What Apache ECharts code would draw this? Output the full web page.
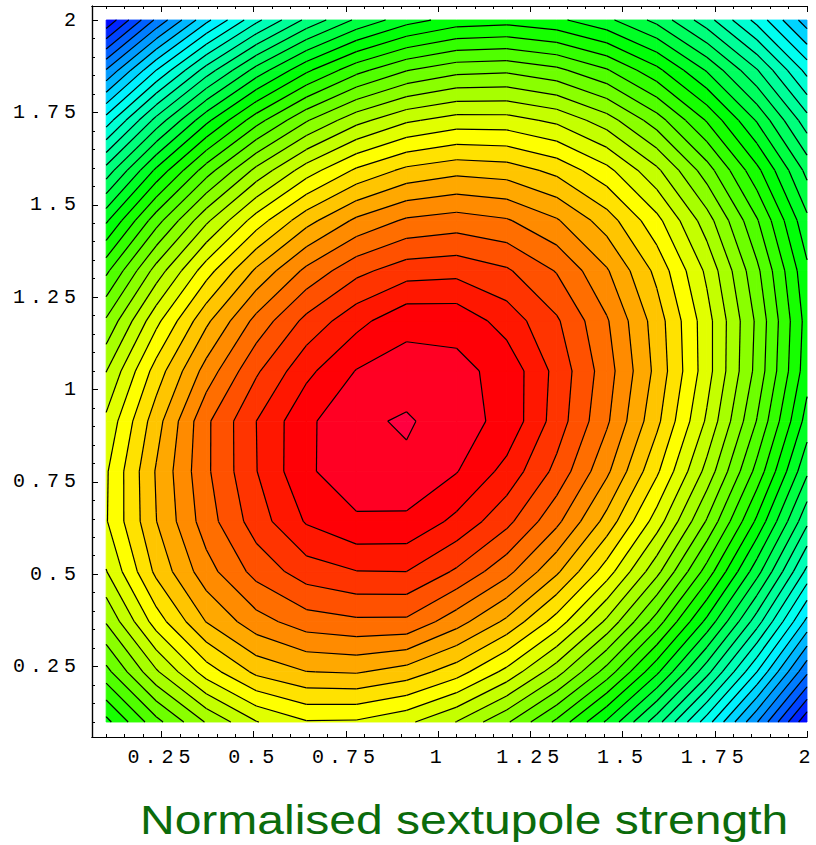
<!DOCTYPE html>
<html>
<head>
<meta charset="utf-8">
<title>Normalised sextupole strength</title>
<script src="https://cdn.jsdelivr.net/npm/echarts@6/dist/echarts.min.js"></script>
<style>
  html, body { margin: 0; padding: 0; background: #ffffff; }
  #chart { width: 816px; height: 845px; }
  /* widen the monospaced tick numbers */
  #chart text[style*="Mono"], #chart text[font-family*="Mono"] { letter-spacing: 5px; }
</style>
</head>
<body>
<div id="chart"></div>
<script>
// Sample positions of the 15 x 15 grid (same along both axes)
const xGrid = [0.1, 0.2357, 0.3714, 0.5071, 0.6429, 0.7786, 0.9143, 1.05, 1.1857, 1.3214, 1.4571, 1.5929, 1.7286, 1.8643, 2.0];
const yGrid = [0.1, 0.2357, 0.3714, 0.5071, 0.6429, 0.7786, 0.9143, 1.05, 1.1857, 1.3214, 1.4571, 1.5929, 1.7286, 1.8643, 2.0];

// Surface values, one row per y sample (bottom row first), x increasing along each row
const r00 = [20.69, 23.67, 26.09, 27.95, 28.92, 28.87, 28.22, 26.97, 25.15, 22.77, 19.84, 16.41, 12.47, 8.06, 3.18];
const r01 = [23.67, 26.85, 29.48, 31.24, 31.98, 32.09, 31.57, 30.44, 28.71, 26.41, 23.58, 20.21, 16.34, 12.00, 7.20];
const r02 = [26.09, 29.48, 32.03, 33.59, 34.52, 34.81, 34.80, 33.41, 31.78, 29.56, 26.79, 23.52, 19.72, 15.45, 10.72];
const r03 = [27.95, 31.24, 33.59, 35.35, 36.50, 36.97, 37.00, 35.85, 34.32, 32.18, 29.49, 26.29, 22.58, 18.39, 13.73];
const r04 = [28.92, 31.98, 34.52, 36.50, 38.10, 38.85, 38.80, 37.74, 36.29, 34.25, 31.64, 28.52, 24.90, 20.79, 16.23];
const r05 = [28.87, 32.09, 34.81, 36.97, 38.85, 39.60, 39.75, 39.05, 37.67, 35.71, 33.21, 30.18, 26.66, 22.66, 18.18];
const r06 = [28.22, 31.57, 34.80, 37.00, 38.80, 39.75, 40.15, 39.35, 38.75, 36.54, 34.16, 31.25, 27.84, 23.95, 19.59];
const r07 = [26.97, 30.44, 33.41, 35.85, 37.74, 39.05, 39.35, 39.25, 38.70, 36.68, 34.46, 31.70, 28.42, 24.67, 20.43];
const r08 = [25.15, 28.71, 31.78, 34.32, 36.29, 37.67, 38.75, 38.70, 37.57, 36.14, 34.11, 31.52, 28.40, 24.80, 20.60];
const r09 = [22.77, 26.41, 29.56, 32.18, 34.25, 35.71, 36.54, 36.68, 36.14, 34.93, 33.11, 30.72, 27.78, 24.24, 20.21];
const r10 = [19.84, 23.58, 26.79, 29.49, 31.64, 33.21, 34.16, 34.46, 34.11, 33.11, 31.50, 29.31, 26.46, 23.10, 19.24];
const r11 = [16.41, 20.21, 23.52, 26.29, 28.52, 30.18, 31.25, 31.70, 31.52, 30.72, 29.31, 27.21, 24.47, 21.28, 17.70];
const r12 = [12.47, 16.34, 19.72, 22.58, 24.90, 26.66, 27.84, 28.42, 28.40, 27.78, 26.46, 24.47, 21.91, 18.90, 15.41];
const r13 = [8.06, 12.00, 15.45, 18.39, 20.79, 22.66, 23.95, 24.67, 24.80, 24.24, 23.10, 21.28, 18.90, 16.07, 12.66];
const r14 = [3.18, 7.20, 10.72, 13.73, 16.23, 18.18, 19.59, 20.43, 20.60, 20.21, 19.24, 17.70, 15.41, 12.66, 9.45];

// Contour levels
const contourLevels = [4, 5, 6, 7, 8, 9, 10, 11, 12, 13, 14, 15, 16, 17, 18, 19, 20, 21, 22,
  23, 24, 25, 26, 27, 28, 29, 30, 31, 32, 33, 34, 35, 36, 37, 38, 39, 40];

// Axis ticks
const majorTicks = [0.25, 0.5, 0.75, 1, 1.25, 1.5, 1.75, 2];
const minorTicks = [0.1, 0.15, 0.2, 0.3, 0.35, 0.4, 0.45, 0.55, 0.6, 0.65, 0.7, 0.8, 0.85, 0.9, 0.95,
  1.05, 1.1, 1.15, 1.2, 1.3, 1.35, 1.4, 1.45, 1.55, 1.6, 1.65, 1.7, 1.8, 1.85, 1.9, 1.95];

const axisLabelText = 'Normalised sextupole strength';

const zRows = [r00, r01, r02, r03, r04, r05, r06, r07, r08, r09, r10, r11, r12, r13, r14];

// ---- colouring: one hue per band, red at the peak running out to blue ----
function hueHex(h) {
  h = ((h % 1) + 1) % 1;
  const k = h * 6, s = Math.floor(k) % 6, f = k - Math.floor(k);
  let r, g, b;
  if (s === 0) { r = 1; g = f; b = 0; }
  else if (s === 1) { r = 1 - f; g = 1; b = 0; }
  else if (s === 2) { r = 0; g = 1; b = f; }
  else if (s === 3) { r = 0; g = 1 - f; b = 1; }
  else if (s === 4) { r = f; g = 0; b = 1; }
  else { r = 1; g = 0; b = 1 - f; }
  const c = v => Math.round(v * 255).toString(16).padStart(2, '0');
  return '#' + c(r) + c(g) + c(b);
}

const nLev = contourLevels.length;
const bands = [];
for (let n = 0; n <= nLev; n++) {
  const lo = n === 0 ? -Infinity : contourLevels[n - 1];
  const hi = n === nLev ? Infinity : contourLevels[n];
  const fromTop = nLev - n;
  bands.push({ lo: lo, hi: hi, color: hueHex(-0.042 + 0.019 * fromTop) });
}

// clip a polygon of [x, y, value] points against value >= level (above) or value <= level
function clipPoly(poly, level, above) {
  const out = [];
  for (let k = 0; k < poly.length; k++) {
    const a = poly[k], b = poly[(k + 1) % poly.length];
    const ina = above ? a[2] >= level : a[2] <= level;
    const inb = above ? b[2] >= level : b[2] <= level;
    if (ina) out.push(a);
    if (ina !== inb) {
      const t = (level - a[2]) / (b[2] - a[2]);
      out.push([a[0] + t * (b[0] - a[0]), a[1] + t * (b[1] - a[1]), level, true]);
    }
  }
  return out;
}

function cellSquare(i, j) {
  return [
    [xGrid[i], yGrid[j], zRows[j][i]],
    [xGrid[i + 1], yGrid[j], zRows[j][i + 1]],
    [xGrid[i + 1], yGrid[j + 1], zRows[j + 1][i + 1]],
    [xGrid[i], yGrid[j + 1], zRows[j + 1][i]]
  ];
}

const cells = [];
for (let j = 0; j < yGrid.length - 1; j++) {
  for (let i = 0; i < xGrid.length - 1; i++) {
    cells.push([xGrid[i], yGrid[j], i, j]);
  }
}

function renderFill(params, api) {
  const i = api.value(2), j = api.value(3);
  const sq = cellSquare(i, j);
  const vals = sq.map(p => p[2]);
  const vmin = Math.min.apply(null, vals), vmax = Math.max.apply(null, vals);
  const children = [];
  bands.forEach(function (bd) {
    if (vmax < bd.lo || vmin > bd.hi) return;
    let poly = sq;
    if (bd.lo !== -Infinity) poly = clipPoly(poly, bd.lo, true);
    if (poly.length < 3) return;
    if (bd.hi !== Infinity) poly = clipPoly(poly, bd.hi, false);
    if (poly.length < 3) return;
    children.push({
      type: 'polygon',
      shape: { points: poly.map(p => api.coord([p[0], p[1]])) },
      style: { fill: bd.color, stroke: bd.color, lineWidth: 0.9 }
    });
  });
  return { type: 'group', children: children };
}

function renderLines(params, api) {
  const i = api.value(2), j = api.value(3);
  const sq = cellSquare(i, j);
  const vals = sq.map(p => p[2]);
  const vmin = Math.min.apply(null, vals), vmax = Math.max.apply(null, vals);
  const children = [];
  contourLevels.forEach(function (lv) {
    if (lv <= vmin || lv >= vmax) return;
    const poly = clipPoly(sq, lv, true);
    for (let k = 0; k < poly.length; k++) {
      const a = poly[k], b = poly[(k + 1) % poly.length];
      if (a[3] && b[3]) {
        const pa = api.coord([a[0], a[1]]), pb = api.coord([b[0], b[1]]);
        children.push({
          type: 'line',
          shape: { x1: pa[0], y1: pa[1], x2: pb[0], y2: pb[1] },
          style: { stroke: '#000000', lineWidth: 1.2 }
        });
      }
    }
  });
  return { type: 'group', children: children };
}

const X_MIN = 0.0616, X_MAX = 2.0, Y_MIN = 0.0594, Y_MAX = 2.038;
const tickFont = { fontFamily: 'Liberation Mono', fontSize: 20, color: '#000000' };

function xAxisLayer(position, ticks, len, labels) {
  return {
    type: 'value', position: position, min: X_MIN, max: X_MAX,
    axisLine: { show: true, lineStyle: { color: '#000000', width: 1.2 } },
    axisTick: { show: true, inside: true, length: len, customValues: ticks, lineStyle: { color: '#000000', width: 1 } },
    axisLabel: labels ? Object.assign({ show: true, margin: 10, customValues: ticks, formatter: v => String(v) }, tickFont) : { show: false },
    splitLine: { show: false }
  };
}
function yAxisLayer(ticks, len, labels) {
  return {
    type: 'value', position: 'left', min: Y_MIN, max: Y_MAX,
    axisLine: { show: true, lineStyle: { color: '#000000', width: 1.2 } },
    axisTick: { show: true, inside: true, length: len, customValues: ticks, lineStyle: { color: '#000000', width: 1 } },
    axisLabel: labels ? Object.assign({ show: true, margin: 11, customValues: ticks, formatter: v => String(v) }, tickFont) : { show: false },
    splitLine: { show: false }
  };
}

const chart = echarts.init(document.getElementById('chart'), null, { renderer: 'svg', width: 816, height: 845 });
chart.setOption({
  animation: false,
  backgroundColor: '#ffffff',
  graphic: [{
    type: 'text',
    x: 140, y: 840,
    scaleX: 1.2, scaleY: 1,
    silent: true,
    style: {
      text: axisLabelText,
      x: 0, y: 0,
      font: '40px "Liberation Sans"',
      fill: '#0b6b0b',
      textAlign: 'left',
      textVerticalAlign: 'bottom'
    }
  }],
  grid: { left: 92, right: 8, top: 6, bottom: 108, containLabel: false },
  xAxis: [
    xAxisLayer('bottom', majorTicks, 6, true),
    xAxisLayer('bottom', minorTicks, 3, false),
    xAxisLayer('top', majorTicks, 6, false),
    xAxisLayer('top', minorTicks, 3, false)
  ],
  yAxis: [
    yAxisLayer(majorTicks, 6, true),
    yAxisLayer(minorTicks, 3, false)
  ],
  series: [
    {
      type: 'custom', coordinateSystem: 'cartesian2d', xAxisIndex: 0, yAxisIndex: 0,
      data: cells, encode: { x: 0, y: 1 }, renderItem: renderFill, silent: true, z: 1
    },
    {
      type: 'custom', coordinateSystem: 'cartesian2d', xAxisIndex: 0, yAxisIndex: 0,
      data: cells, encode: { x: 0, y: 1 }, renderItem: renderLines, silent: true, z: 2
    }
  ]
});
</script>
</body>
</html>
